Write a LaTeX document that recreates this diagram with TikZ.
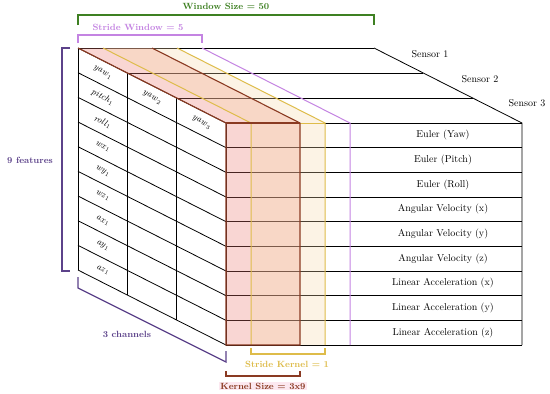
\documentclass[tikz,border=0pt]{standalone}
\usepackage{tikz}
\usetikzlibrary{positioning}
\usepackage{xcolor}
\definecolor{wingreen}{RGB}{62,128,34}
\definecolor{strideviolet}{RGB}{196,132,226}
\definecolor{featpurple}{RGB}{92,66,138}
\definecolor{kernbrown}{RGB}{138,58,34}
\definecolor{kernfill}{RGB}{236,122,112}
\definecolor{stridefill}{RGB}{248,218,170}
\definecolor{stridegold}{RGB}{222,188,74}
\definecolor{tagpink}{RGB}{252,232,240}
\newcommand{\rowh}{24.67}

\begin{document}
\begin{tikzpicture}[x=1pt, y=-1pt,
  grid/.style={draw=black, line width=0.8pt},
  lbl/.style={font=\normalsize, inner sep=1pt},
  cell/.style={font=\small, rotate=-26.9, inner sep=0pt},
  tag/.style={font=\small\bfseries, inner sep=1pt},
  brk/.style={line width=1.2pt}]
\useasboundingbox (0,0) rectangle (550,394);
\fill[white] (0,0) rectangle (550,394);
\foreach \k in {0,...,9}
  \draw[grid] (226,{123+\k*\rowh}) -- (522,{123+\k*\rowh});
\foreach \k in {0,...,9}
  \draw[grid] (78,{48+\k*\rowh}) -- (226,{123+\k*\rowh});
\foreach \c in {0,...,3} {
  \draw[grid] ({78+\c*49.33},{48+\c*25}) -- ++(0,222);
  \draw[grid] ({78+\c*49.33},{48+\c*25}) -- ++(296,0);
}
\draw[grid] (374,48) -- (522,123) -- (522,345);
\fill[kernfill, opacity=.3] (78,48) -- (152,48) -- (300,123) -- (300,345) -- (226,345) -- (226,123) -- cycle;
\fill[stridefill, opacity=.3] (103,48) -- (177,48) -- (325,123) -- (325,345) -- (251,345) -- (251,123) -- cycle;
\draw[strideviolet, line width=1pt] (202,48) -- (350,123) -- (350,345);
\draw[stridegold, line width=1pt] (103,48) -- (251,123) -- (251,345);
\draw[stridegold, line width=1pt] (177,48) -- (325,123) -- (325,345);
\draw[stridegold, line width=1pt] (251,123) -- (325,123);
\draw[kernbrown, line width=1.1pt] (78,48) -- (226,123) -- (226,345) -- (300,345) -- (300,123) -- (152,48);
\draw[kernbrown, line width=1.1pt] (226,123) -- (300,123);
\foreach \t [count=\k from 0] in {{Euler (Yaw)}, {Euler (Pitch)}, {Euler (Roll)},
    {Angular Velocity (x)}, {Angular Velocity (y)}, {Angular Velocity (z)},
    {Linear Acceleration (x)}, {Linear Acceleration (y)}, {Linear Acceleration (z)}}
  \node[lbl] (row\k) at (443,{123+(\k+0.5)*\rowh}) {\t};
\foreach \t [count=\k from 0] in {yaw,pitch,roll,wx,wy,wz,ax,ay,az}
  \node[cell] (f\k) at (102.7,{72.8+\k*\rowh}) {$\mathit{\t}_1$};
\node[cell] (yawtwo) at (152,97.8) {$\mathit{yaw}_2$};
\node[cell] (yawthree) at (201.3,122.8) {$\mathit{yaw}_3$};
\node[lbl] (sone) at (430,54) {Sensor 1};
\node[lbl] (stwo) at (480,79) {Sensor 2};
\node[lbl] (sthree) at (527,103) {Sensor 3};
\draw[brk, wingreen] (78,25) -- (78,15) -- (374,15) -- (374,25);
\node[tag, wingreen] (win) at (226,6) {Window Size = 50};
\draw[brk, strideviolet] (78,43) -- (78,35) -- (202,35) -- (202,43);
\node[tag, strideviolet] (strw) at (138,27) {Stride Window = 5};
\draw[brk, featpurple] (70,48) -- (62,48) -- (62,271) -- (70,271);
\node[tag, featpurple] (feat) at (30,160) {9 features};
\draw[brk, featpurple] (78,277) -- (78,288) -- (226,362) -- (226,351);
\node[tag, featpurple] (chan) at (127,334) {3 channels};
\draw[brk, stridegold] (251,348) -- (251,354) -- (325,354) -- (325,348);
\node[tag, stridegold] (sk) at (287,364) {Stride Kernel = 1};
\draw[brk, kernbrown] (226,371) -- (226,376) -- (300,376) -- (300,371);
\node[tag, kernbrown, fill=tagpink] (ks) at (263,386) {Kernel Size = 3x9};
\end{tikzpicture}
\end{document}
